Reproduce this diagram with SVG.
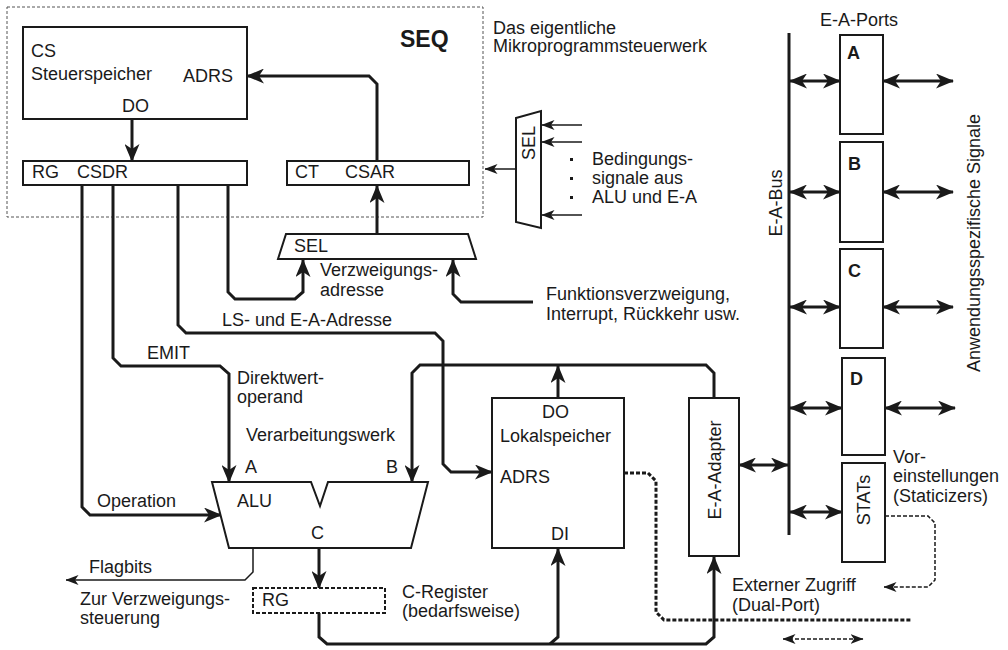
<svg xmlns="http://www.w3.org/2000/svg" width="1008" height="650" viewBox="0 0 1008 650">
  <defs>
    <style>
      text { font-family: "Liberation Sans", Arial, sans-serif; font-size: 18px; fill: #1a1a1a; }
      .b { font-weight: bold; }
      .seq { font-weight: bold; font-size: 23px; }
      .box { fill: #fff; stroke: #1a1a1a; stroke-width: 2; }
      .w { fill: none; stroke: #1a1a1a; stroke-width: 3; stroke-linejoin: miter; }
      .t { fill: none; stroke: #1a1a1a; stroke-width: 1.5; }
      .dsh { stroke-dasharray: 4 2; }
      .a { marker-end: url(#ah); }
      .aa { marker-start: url(#ah); marker-end: url(#ah); }
      .as { marker-end: url(#ahs); }
      .aas { marker-start: url(#ahs); marker-end: url(#ahs); }
    </style>
    <marker id="ah" viewBox="0 0 18 15" refX="17" refY="7.5" markerWidth="18" markerHeight="15" markerUnits="userSpaceOnUse" orient="auto-start-reverse">
      <path d="M0,0 L18,7.5 L0,15 L5,7.5 z" fill="#1a1a1a"/>
    </marker>
    <marker id="ahs" viewBox="0 0 13 10" refX="12.5" refY="5" markerWidth="13" markerHeight="10" markerUnits="userSpaceOnUse" orient="auto-start-reverse">
      <path d="M0,0 L13,5 L0,10 L3.5,5 z" fill="#1a1a1a"/>
    </marker>
  </defs>

  <rect width="1008" height="650" fill="#fff"/>

  <!-- Sequencer frame -->
  <g id="seq">
    <rect x="7" y="7" width="476" height="210" fill="none" stroke="#555" stroke-width="1" stroke-dasharray="3 2"/>
    <text class="seq" x="400" y="47">SEQ</text>
    <text x="493" y="34">Das eigentliche</text>
    <text x="493" y="52">Mikroprogrammsteuerwerk</text>
  </g>

  <!-- Connectors -->
  <g id="connectors">
    <!-- control store path -->
    <path class="w a" d="M132,119 V161"/>
    <path class="w a" d="M377,161 V84 L369,76 H247"/>
    <path class="w a" d="M377,234 V186"/>
    <!-- CSDR outputs -->
    <path class="w a" d="M228,185 V292 L235,299 H295 L303,292 V260"/>
    <path class="w a" d="M178,185 V325 L186,333 H435 L443,341 V464 L451,472 H492"/>
    <path class="w a" d="M113,185 V358 L121,366 H220 L229,374 V482"/>
    <path class="w a" d="M82,185 V507 L90,515 H221"/>
    <!-- external branch input -->
    <path class="w a" d="M533,302 H461 L453,294 V260"/>
    <!-- data paths -->
    <path class="w a" d="M714,398 V373 L706,365 H420 L412,373 V482"/>
    <path class="w a" d="M558,398 V366"/>
    <path class="w a" d="M319,548 V588"/>
    <path class="w a" d="M319,613 V637 L327,644 H706 L714,637 V557"/>
    <path class="w a" d="M550,644 L558,637 V549"/>
    <!-- dual-port access -->
    <path class="w dsh" d="M624,473 H648 L656,481 V612 L664,620 H912"/>
    <!-- condition selector -->
    <path class="t as" d="M516,169 H485"/>
    <path class="t as" d="M582,125 H542"/>
    <path class="t as" d="M582,142 H542"/>
    <path class="t as" d="M582,215 H542"/>
    <!-- flags -->
    <path class="t as" d="M253,548 V572 L245,580 H66"/>
    <!-- I/O bus -->
    <path class="w" d="M789,33 V535"/>
    <path class="w aa" d="M790,81 H840"/>
    <path class="w aa" d="M883,81 H953"/>
    <path class="w aa" d="M790,192 H840"/>
    <path class="w aa" d="M883,192 H953"/>
    <path class="w aa" d="M790,307 H840"/>
    <path class="w aa" d="M883,307 H953"/>
    <path class="w aa" d="M790,408 H842"/>
    <path class="w aa" d="M885,408 H955"/>
    <path class="w aa" d="M739,465 H788"/>
    <path class="w aa" d="M790,512 H842"/>
    <!-- staticizer presets -->
    <path class="t dsh as" d="M885,516 H928 L935,523 V580 L928,587 H884"/>
    <path class="t dsh aas" d="M783,639 H863"/>
  </g>

  <!-- Control store -->
  <g id="cs">
    <rect class="box" x="23" y="27" width="224" height="92"/>
    <text x="31" y="57">CS</text>
    <text x="31" y="80">Steuerspeicher</text>
    <text x="183" y="82">ADRS</text>
    <text x="122" y="112">DO</text>
  </g>

  <g id="csdr">
    <rect class="box" x="23" y="161" width="224" height="24"/>
    <text x="32" y="178">RG</text>
    <text x="77" y="178">CSDR</text>
  </g>

  <g id="csar">
    <rect class="box" x="287" y="161" width="182" height="24"/>
    <text x="295" y="178">CT</text>
    <text x="345" y="178">CSAR</text>
  </g>

  <g id="sel-branch">
    <polygon class="box" points="286,234 468,234 476,259 278,259"/>
    <text x="294" y="252">SEL</text>
    <text x="320" y="276">Verzweigungs-</text>
    <text x="320" y="296">adresse</text>
    <text x="546" y="300">Funktionsverzweigung,</text>
    <text x="546" y="320">Interrupt, Rückkehr usw.</text>
  </g>

  <g id="sel-cond">
    <polygon class="box" points="516,118 541,111 541,228 516,222"/>
    <text x="528" y="149.5" text-anchor="middle" transform="rotate(-90 528 143)">SEL</text>
    <rect x="570" y="158" width="3" height="3" fill="#1a1a1a"/>
    <rect x="570" y="177" width="3" height="3" fill="#1a1a1a"/>
    <rect x="570" y="196" width="3" height="3" fill="#1a1a1a"/>
    <text x="592" y="165">Bedingungs-</text>
    <text x="592" y="184">signale aus</text>
    <text x="592" y="203">ALU und E-A</text>
  </g>

  <g id="labels">
    <text x="222" y="326">LS- und E-A-Adresse</text>
    <text x="147" y="359">EMIT</text>
    <text x="237" y="384">Direktwert-</text>
    <text x="237" y="403">operand</text>
    <text x="246" y="441">Verarbeitungswerk</text>
    <text x="97" y="507">Operation</text>
    <text x="89" y="573">Flagbits</text>
    <text x="80" y="605">Zur Verzweigungs-</text>
    <text x="80" y="624">steuerung</text>
    <text x="732" y="591">Externer Zugriff</text>
    <text x="732" y="611">(Dual-Port)</text>
  </g>

  <!-- Processing unit -->
  <g id="alu">
    <polygon class="box" points="212,482 311,482 320,506 328,482 428,482 411,548 229,548"/>
    <text x="245" y="473">A</text>
    <text x="386" y="473">B</text>
    <text x="237" y="507">ALU</text>
    <text x="311" y="539">C</text>
  </g>

  <g id="c-register">
    <rect class="box dsh" x="253" y="588" width="132" height="25"/>
    <text x="262" y="606">RG</text>
    <text x="402" y="598">C-Register</text>
    <text x="402" y="617">(bedarfsweise)</text>
  </g>

  <g id="local-store">
    <rect class="box" x="492" y="398" width="132" height="150"/>
    <text x="542" y="418">DO</text>
    <text x="500" y="442">Lokalspeicher</text>
    <text x="500" y="483">ADRS</text>
    <text x="551" y="540">DI</text>
  </g>

  <g id="io-adapter">
    <rect class="box" x="689" y="398" width="50" height="158"/>
    <text x="714" y="476.5" text-anchor="middle" transform="rotate(-90 714 470)">E-A-Adapter</text>
  </g>

  <g id="io-bus">
    <text x="775" y="209.5" text-anchor="middle" transform="rotate(-90 775 203)">E-A-Bus</text>
    <text x="820" y="26">E-A-Ports</text>
    <text x="973" y="249.5" text-anchor="middle" transform="rotate(-90 973 243)">Anwendungsspezifische Signale</text>
  </g>

  <g id="port-a">
    <rect class="box" x="840" y="35" width="43" height="99"/>
    <text class="b" x="847" y="59">A</text>
  </g>
  <g id="port-b">
    <rect class="box" x="840" y="142" width="43" height="100"/>
    <text class="b" x="848" y="170">B</text>
  </g>
  <g id="port-c">
    <rect class="box" x="840" y="249" width="43" height="99"/>
    <text class="b" x="848" y="277">C</text>
  </g>
  <g id="port-d">
    <rect class="box" x="842" y="358" width="43" height="97"/>
    <text class="b" x="850" y="385">D</text>
  </g>
  <g id="stats">
    <rect class="box" x="842" y="463" width="43" height="99"/>
    <text x="863" y="506.5" text-anchor="middle" transform="rotate(-90 863 500)">STATs</text>
    <text x="893" y="463">Vor-</text>
    <text x="893" y="482">einstellungen</text>
    <text x="893" y="502">(Staticizers)</text>
  </g>
</svg>
